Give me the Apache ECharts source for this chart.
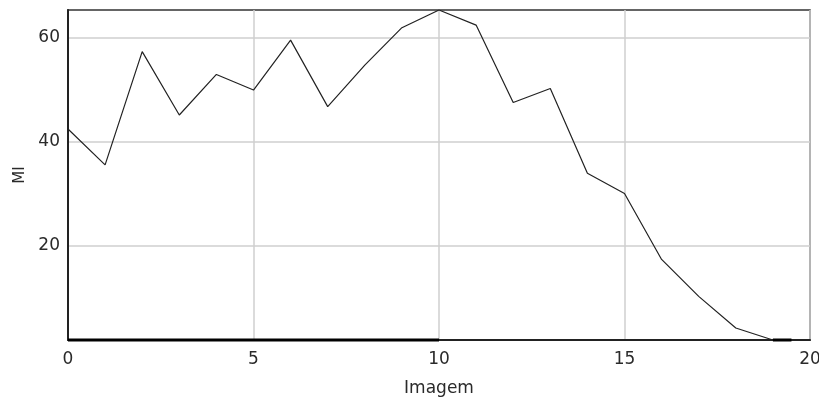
<!DOCTYPE html>
<html><head><meta charset="utf-8">
<script src="https://cdn.jsdelivr.net/npm/echarts@6/dist/echarts.min.js"></script>
<style>html,body{margin:0;padding:0;background:#fff}#c{width:819px;height:403px}</style>
</head><body><div id="c"></div>
<script>
const xValues = [0,1,2,3,4,5,6,7,8,9,10,11,12,13,14,15,16,17,18,19,19.5];
const miValues = [42.5,35.6,57.4,45.2,53.0,50.0,59.6,46.8,54.8,62.0,65.4,62.5,47.6,50.3,34.0,30.1,17.4,10.3,4.2,1.9,1.9];
const baseX = [0,10];
const tailX = [19,19.5];
const yTicks = [20,40,60];
const yMin = 1.9, yMax = 65.4;

const chart = echarts.init(document.getElementById('c'));
const font = 'DejaVu Sans';
chart.setOption({
  animation:false,
  grid:{left:68,top:10,right:9,bottom:63,show:true,borderColor:'#333',borderWidth:1.5,containLabel:false,outerBoundsMode:'none'},
  xAxis:{type:'value',min:0,max:20,interval:5,name:'Imagem',nameLocation:'middle',nameGap:40,
    nameTextStyle:{color:'#2a2a2a',fontFamily:font,fontSize:17},
    axisLine:{lineStyle:{color:'#222',width:2}},axisTick:{show:false},
    axisLabel:{color:'#2a2a2a',fontFamily:font,fontSize:17,margin:11},
    splitLine:{show:true,lineStyle:{color:'#cfcfcf',width:1.5}}},
  yAxis:{type:'value',min:yMin,max:yMax,name:'MI',nameLocation:'middle',nameGap:40,
    nameTextStyle:{color:'#2a2a2a',fontFamily:font,fontSize:15},
    axisLine:{show:true,lineStyle:{color:'#222',width:2}},
    axisTick:{show:false,customValues:yTicks},
    axisLabel:{color:'#2a2a2a',fontFamily:font,fontSize:17,margin:8,customValues:yTicks},
    splitLine:{show:true,customValues:yTicks,lineStyle:{color:'#cfcfcf',width:1.5}}},
  series:[
    {type:'line',data:xValues.map((x,i)=>[x,miValues[i]]),symbol:'none',lineStyle:{color:'#222',width:1.2}},
    {type:'line',data:baseX.map(x=>[x,yMin]),symbol:'none',lineStyle:{color:'#000',width:3},clip:false},
    {type:'line',data:tailX.map(x=>[x,yMin]),symbol:'none',lineStyle:{color:'#000',width:3},clip:false}
  ]
});
</script></body></html>
